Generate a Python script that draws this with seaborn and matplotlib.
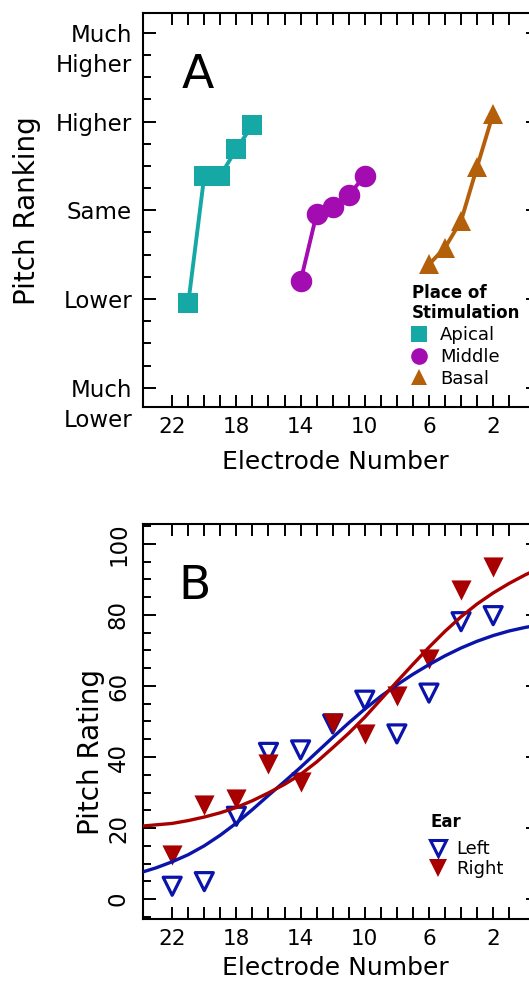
import numpy as np
import pandas as pd
import matplotlib
matplotlib.use('Agg')
import matplotlib.pyplot as plt
from matplotlib.lines import Line2D
from matplotlib.ticker import MultipleLocator
import seaborn as sns

# ---- panel A: pitch ranking by place of stimulation ----
apical_electrodes = [21, 20, 19, 18, 17]
apical_ranking = [-1.05, 0.39, 0.39, 0.69, 0.96]
middle_electrodes = [14, 13, 12, 11, 10]
middle_ranking = [-0.80, -0.04, 0.04, 0.17, 0.39]
basal_electrodes = [6, 5, 4, 3, 2]
basal_ranking = [-0.61, -0.42, -0.12, 0.49, 1.09]
ranking_ticks = [-2, -1, 0, 1, 2]
ranking_labels = ['Much\nLower', 'Lower', 'Same', 'Higher', 'Much\nHigher']

# ---- panel B: pitch rating per ear with fitted curves ----
electrodes_b = [22, 20, 18, 16, 14, 12, 10, 8, 6, 4, 2]
left_rating = [3.6, 4.9, 23.3, 41.3, 42.0, 49.3, 56.0, 46.5, 58.0, 78.1, 79.8]
right_rating = [12.3, 26.5, 28.2, 37.9, 32.9, 49.7, 46.5, 57.3, 67.5, 86.9, 93.5]
fit_electrodes = [24, 23, 22, 21, 20, 19, 18, 17, 16, 15, 14, 13, 12,
                  11, 10, 9, 8, 7, 6, 5, 4, 3, 2, 1, 0, -1]
left_fit = [7.4, 8.8, 10.5, 12.5, 15.0, 18.0, 21.4, 25.2, 29.2, 33.1, 37.1, 41.3, 45.5,
            49.6, 53.5, 57.1, 60.3, 63.3, 66.0, 68.5, 70.7, 72.6, 74.2, 75.5, 76.5, 77.3]
right_fit = [20.5, 20.9, 21.3, 22.1, 23.1, 24.3, 25.8, 27.7, 29.9, 32.3, 35.1, 38.6, 42.6,
             46.7, 51.2, 56.2, 61.2, 66.1, 70.9, 75.4, 79.5, 83.1, 86.2, 88.9, 91.3, 93.4]
rating_ticks = [0, 20, 40, 60, 80, 100]

electrode_ticks = list(range(1, 23))
electrode_labels = [22, 18, 14, 10, 6, 2]

place_colors = {'Apical': '#15a8a5', 'Middle': '#a30cb0', 'Basal': '#b4600b'}
place_markers = {'Apical': 's', 'Middle': 'o', 'Basal': '^'}
place_sizes = {'Apical': 14, 'Middle': 15.5, 'Basal': 14.5}
ear_colors = {'Left': '#0a14aa', 'Right': '#a80000'}

sns.set_style('ticks')
plt.rcParams['font.family'] = ['DejaVu Sans']
plt.rcParams['axes.edgecolor'] = 'black'
plt.rcParams['text.color'] = 'black'
plt.rcParams['xtick.color'] = 'black'
plt.rcParams['ytick.color'] = 'black'
plt.rcParams['axes.labelcolor'] = 'black'

fig = plt.figure(figsize=(5.29, 9.82), dpi=100)
W, H = 529, 982
ax_a = fig.add_axes([142.5 / W, 1 - 407.3 / H, 396.4 / W, 394.0 / H])
ax_b = fig.add_axes([142.5 / W, 1 - 919.3 / H, 396.4 / W, 395.6 / H])

groups = {'Apical': (apical_electrodes, apical_ranking),
          'Middle': (middle_electrodes, middle_ranking),
          'Basal': (basal_electrodes, basal_ranking)}
for name, (xs, ys) in groups.items():
    sns.lineplot(x=xs, y=ys, color=place_colors[name], marker=place_markers[name],
                 markersize=place_sizes[name], markeredgewidth=0,
                 markeredgecolor=place_colors[name], linewidth=2.8,
                 errorbar=None, ax=ax_a)

sns.scatterplot(x=electrodes_b, y=left_rating, marker='v', s=13 ** 2,
                facecolor='none', edgecolor=ear_colors['Left'], linewidth=2.3,
                ax=ax_b, zorder=3)
sns.scatterplot(x=electrodes_b, y=right_rating, marker='v', s=14.5 ** 2,
                color=ear_colors['Right'], edgecolor=ear_colors['Right'], linewidth=0,
                ax=ax_b, zorder=4)
sns.lineplot(x=fit_electrodes, y=left_fit, color=ear_colors['Left'], linewidth=2.4,
             errorbar=None, ax=ax_b, zorder=5)
sns.lineplot(x=fit_electrodes, y=right_fit, color=ear_colors['Right'], linewidth=2.4,
             errorbar=None, ax=ax_b, zorder=5)

tick_texts = [str(t) if t in electrode_labels else '' for t in electrode_ticks]
for ax in (ax_a, ax_b):
    ax.set_xlim(23.85, -0.85)
    ax.set_xticks(electrode_ticks, tick_texts)
    for sp in ax.spines.values():
        sp.set_linewidth(1.5)
        sp.set_color('black')
    ax.tick_params(axis='x', which='major', direction='in', top=True, bottom=True,
                   length=8.6, width=1.4, pad=7, labelsize=15.5)
    ax.tick_params(axis='y', which='major', direction='in', left=True, right=True,
                   length=9.4, width=1.4, pad=7.5, labelsize=16.5)
    ax.tick_params(axis='y', which='minor', direction='in', left=True, right=False,
                   length=5.4, width=1.4)
    ax.set_xlabel('Electrode Number', fontsize=18)
    ax.grid(False)

# panel A axes
ax_a.set_ylim(-2.22, 2.22)
ax_a.set_yticks(ranking_ticks, ['' if '\n' in l else l for l in ranking_labels])
ax_a.yaxis.set_minor_locator(MultipleLocator(0.25))
for t, l in zip(ranking_ticks, ranking_labels):
    if '\n' in l:
        ax_a.annotate(l, xy=(0, t), xycoords=('axes fraction', 'data'),
                      xytext=(-7.5, 6), textcoords='offset points',
                      ha='right', va='top', multialignment='right',
                      fontsize=16.5, linespacing=1.36)
ax_a.set_ylabel('Pitch Ranking', fontsize=20)
ax_a.yaxis.set_label_coords(-0.255, 0.5)
ax_a.xaxis.set_label_coords(0.4857, -0.108)
ax_a.text(0.099, 0.8096, 'A', transform=ax_a.transAxes, fontsize=34,
          ha='left', va='baseline')

ax_a.text(0.679, 0.3117, 'Place of\nStimulation', transform=ax_a.transAxes,
          fontsize=12, fontweight='bold', ha='left', va='top', linespacing=1.12)
handles_a = [Line2D([], [], linestyle='none', marker=place_markers[k],
                    color=place_colors[k], markeredgewidth=0, markersize=12)
             for k in place_colors]
ax_a.legend(handles_a, list(place_colors), loc='upper left',
            bbox_to_anchor=(0.677, 0.2056), frameon=False, fontsize=13,
            borderpad=0, borderaxespad=0, handlelength=0.9, handletextpad=0.72,
            labelspacing=0.2)

# panel B axes
ax_b.set_ylim(-5.7, 105.7)
ax_b.set_yticks(rating_ticks)
ax_b.yaxis.set_minor_locator(MultipleLocator(5))
ax_b.tick_params(axis='y', which='major', labelrotation=90, pad=9)
for lab in ax_b.get_yticklabels():
    lab.set_va('center')
ax_b.set_ylabel('Pitch Rating', fontsize=20)
ax_b.yaxis.set_label_coords(-0.0946, 0.4237)
ax_b.xaxis.set_label_coords(0.4857, -0.0928)
ax_b.text(0.0913, 0.809, 'B', transform=ax_b.transAxes, fontsize=34,
          ha='left', va='baseline')

ax_b.text(0.727, 0.2692, 'Ear', transform=ax_b.transAxes,
          fontsize=12, fontweight='bold', ha='left', va='top')
handles_b = [Line2D([], [], linestyle='none', marker='v', markersize=11,
                    markerfacecolor='none', markeredgecolor=ear_colors['Left'],
                    markeredgewidth=2.2),
             Line2D([], [], linestyle='none', marker='v', markersize=12.5,
                    color=ear_colors['Right'], markeredgewidth=0)]
ax_b.legend(handles_b, ['Left', 'Right'], loc='upper left',
            bbox_to_anchor=(0.7258, 0.1997), frameon=False, fontsize=13,
            borderpad=0, borderaxespad=0, handlelength=0.9, handletextpad=0.57,
            labelspacing=0.12)

fig.savefig('out.png', dpi=100)
